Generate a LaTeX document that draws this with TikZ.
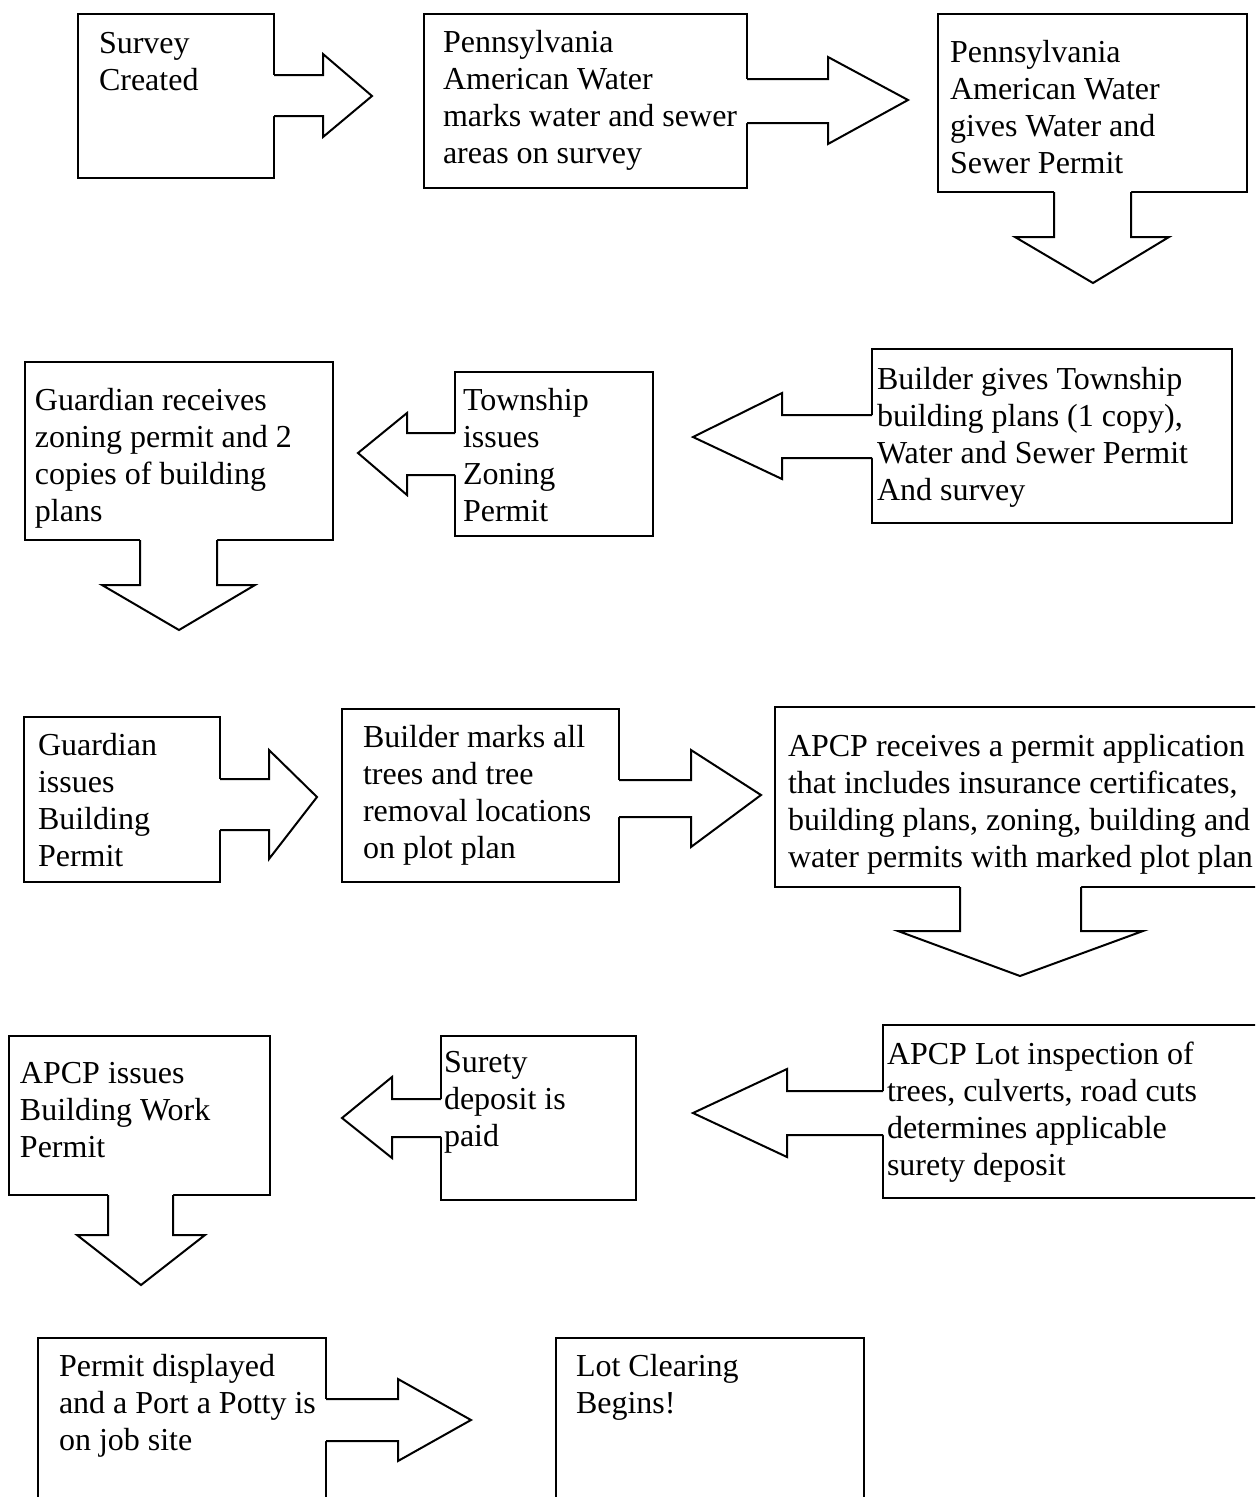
\documentclass[tikz,border=0pt]{standalone}
\usepackage{fontspec}
\setmainfont{Liberation Serif}
\usetikzlibrary{fit}
\tikzset{
  box/.style={draw=black, line width=0.75pt, inner sep=0pt, outer sep=0pt, rectangle},
  arrline/.style={draw=black, line width=0.75pt, line join=miter},
  txt/.style={anchor=base west, inner sep=0pt, outer sep=0pt, align=left,
              font=\fontsize{12pt}{13.875pt}\selectfont}
}
% right block arrow: node, s1, s2, neck, h1, h2, tipx, tipy (relative to north east, px, y down)
\newcommand\rblock[8]{%
  \fill[white, shift={(#1.north east)}] (-1.5,#2) -- (#4,#2) -- (#4,#5) -- (#7,#8) -- (#4,#6) -- (#4,#3) -- (-1.5,#3) -- cycle;
  \draw[arrline, shift={(#1.north east)}] (0,#2) -- (#4,#2) -- (#4,#5) -- (#7,#8) -- (#4,#6) -- (#4,#3) -- (0,#3);}
% left block arrow: relative to north west
\newcommand\lblock[8]{%
  \fill[white, shift={(#1.north west)}] (1.5,#2) -- (#4,#2) -- (#4,#5) -- (#7,#8) -- (#4,#6) -- (#4,#3) -- (1.5,#3) -- cycle;
  \draw[arrline, shift={(#1.north west)}] (0,#2) -- (#4,#2) -- (#4,#5) -- (#7,#8) -- (#4,#6) -- (#4,#3) -- (0,#3);}
% down block arrow: relative to south west: node, a1, a2, neck, h1, h2, tipx, tipy
\newcommand\dblock[8]{%
  \fill[white, shift={(#1.south west)}] (#2,-1.5) -- (#2,#4) -- (#5,#4) -- (#7,#8) -- (#6,#4) -- (#3,#4) -- (#3,-1.5) -- cycle;
  \draw[arrline, shift={(#1.south west)}] (#2,0) -- (#2,#4) -- (#5,#4) -- (#7,#8) -- (#6,#4) -- (#3,#4) -- (#3,0);}
\begin{document}
\begin{tikzpicture}[x=0.375pt, y=-0.375pt]
\useasboundingbox (0,0) rectangle (1255,1497);
\fill[white] (0,0) rectangle (1255,1497);
\clip (0,0) rectangle (1255,1497);

% boxes
\node[box, fit={(78,14) (274,178)}] (b1) {};
\node[box, fit={(424,14) (747,188)}] (b2) {};
\node[box, fit={(938,14) (1247,192)}] (b3) {};
\node[box, fit={(25,362) (333,540)}] (b4) {};
\node[box, fit={(455,372) (653,536)}] (b5) {};
\node[box, fit={(872,349) (1232,523)}] (b6) {};
\node[box, fit={(24,717) (220,882)}] (b7) {};
\node[box, fit={(342,709) (619,882)}] (b8) {};
\node[box, fit={(775,707) (1270,887)}] (b9) {};
\node[box, fit={(9,1036) (270,1195)}] (b10) {};
\node[box, fit={(441,1036) (636,1200)}] (b11) {};
\node[box, fit={(883,1025) (1270,1198)}] (b12) {};
\node[box, fit={(38,1338) (326,1520)}] (b13) {};
\node[box, fit={(556,1338) (864,1520)}] (b14) {};

% block arrows
\rblock{b1}{61}{102}{49}{40}{123}{98}{82}
\rblock{b2}{65}{109}{81}{43}{130}{161}{86}
\dblock{b3}{116}{193}{45}{77}{231}{155}{91}
\lblock{b6}{66}{109}{-90}{44}{130}{-179}{88}
\lblock{b5}{61}{103}{-48}{41}{123}{-97}{81}
\dblock{b4}{115}{192}{45}{77}{230}{154}{90}
\rblock{b7}{62}{113}{49}{33}{142}{97}{80}
\rblock{b8}{71}{108}{72}{41}{138}{142}{86}
\dblock{b9}{185}{306}{44}{123}{368}{245}{89}
\lblock{b12}{66}{110}{-96}{44}{132}{-190}{88}
\lblock{b11}{63}{101}{-49}{41}{122}{-99}{82}
\dblock{b10}{99}{164}{40}{68}{196}{132}{90}
\rblock{b13}{61}{103}{72}{41}{123}{145}{82}

% texts (anchored at the baseline of the last line)
\node[txt] (t1) at (99,90) {Survey\\Created};
\node[txt] (t2) at (443,163) {Pennsylvania\\American Water\\marks water and sewer\\areas on survey};
\node[txt] (t3) at (950,173) {Pennsylvania\\American Water\\gives Water and\\Sewer Permit};
\node[txt] (t4) at (35,521) {Guardian receives\\zoning permit and 2\\copies of building\\plans};
\node[txt] (t5) at (463,521) {Township\\issues\\Zoning\\Permit};
\node[txt] (t6) at (877,500) {Builder gives Township\\building plans (1 copy),\\Water and Sewer Permit\\And survey};
\node[txt] (t7) at (38,866) {Guardian\\issues\\Building\\Permit};
\node[txt] (t8) at (363,858) {Builder marks all\\trees and tree\\removal locations\\on plot plan};
\node[txt] (t9) at (788,867) {APCP receives a permit application\\that includes insurance certificates,\\building plans, zoning, building and\\water permits with marked plot plan};
\node[txt] (t10) at (20,1157) {APCP issues\\Building Work\\Permit};
\node[txt] (t11) at (444,1146) {Surety\\deposit is\\paid};
\node[txt] (t12) at (887,1175) {APCP Lot inspection of\\trees, culverts, road cuts\\determines applicable\\surety deposit};
\node[txt] (t13) at (59,1450) {Permit displayed\\and a Port a Potty is\\on job site};
\node[txt] (t14) at (576,1413) {Lot Clearing\\Begins!};
\end{tikzpicture}
\end{document}
